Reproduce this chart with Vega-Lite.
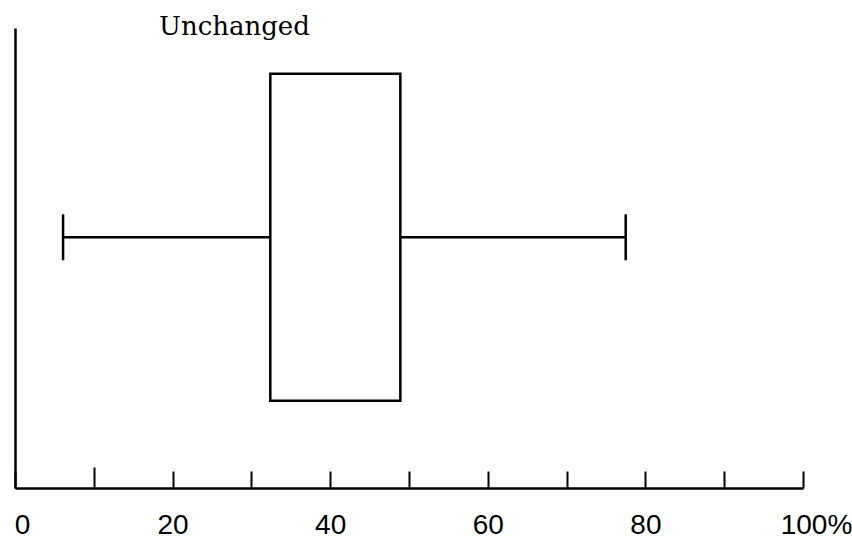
{
  "$schema": "https://vega.github.io/schema/vega-lite/v6.json",
  "autosize": "none",
  "width": 788,
  "height": 460,
  "padding": {"left": 15, "top": 28, "right": 49, "bottom": 67},
  "background": "white",
  "view": {"stroke": null},
  "title": {
    "text": "Unchanged",
    "anchor": "start",
    "dx": 145,
    "dy": 33,
    "offset": 0,
    "baseline": "alphabetic",
    "font": "DejaVu Serif",
    "fontSize": 26,
    "fontWeight": "normal",
    "color": "black"
  },
  "data": {"values": [{"group": "Unchanged", "min": 6.1, "q1": 32.4, "q3": 48.9, "max": 77.5}]},
  "encoding": {
    "y": {
      "field": "group",
      "type": "nominal",
      "scale": {"paddingInner": 0, "paddingOuter": 0.5, "align": 0.41},
      "axis": {"title": null, "labels": false, "ticks": false, "domainColor": "black", "domainWidth": 2.5}
    }
  },
  "layer": [
    {
      "mark": {"type": "rule", "color": "black", "strokeWidth": 2.5},
      "encoding": {
        "x": {
          "field": "min",
          "type": "quantitative",
          "scale": {"domain": [0, 100], "nice": false, "zero": false},
          "axis": {
            "title": null,
            "values": [0, 10, 20, 30, 40, 50, 60, 70, 80, 90, 100],
            "labelExpr": "datum.value % 20 == 0 ? (datum.value == 100 ? '100%' : datum.label) : ''",
            "grid": false,
            "domainColor": "black",
            "domainWidth": 2.5,
            "tickColor": "black",
            "tickWidth": 2,
            "tickSize": {"condition": {"test": "datum.value == 10", "value": -21}, "value": -17},
            "labelPadding": 40,
            "labelFont": "Liberation Sans Narrow, Liberation Sans",
            "labelFontSize": 28,
            "labelColor": "black",
            "labelOverlap": false,
            "labelFlush": false,
            "labelBound": false,
            "labelOffset": {"condition": [{"test": "datum.value == 100", "value": 13}, {"test": "datum.value == 0", "value": 7}], "value": 0}
          }
        },
        "x2": {"field": "q1"}
      }
    },
    {
      "mark": {"type": "rule", "color": "black", "strokeWidth": 2.5},
      "encoding": {"x": {"field": "q3", "type": "quantitative"}, "x2": {"field": "max"}}
    },
    {
      "mark": {"type": "bar", "fill": "white", "stroke": "black", "strokeWidth": 2.5, "size": 327},
      "encoding": {"x": {"field": "q1", "type": "quantitative"}, "x2": {"field": "q3"}}
    },
    {
      "mark": {"type": "tick", "color": "black", "opacity": 1, "thickness": 2.5, "size": 46, "orient": "vertical"},
      "encoding": {"x": {"field": "min", "type": "quantitative"}}
    },
    {
      "mark": {"type": "tick", "color": "black", "opacity": 1, "thickness": 2.5, "size": 46, "orient": "vertical"},
      "encoding": {"x": {"field": "max", "type": "quantitative"}}
    }
  ]
}
